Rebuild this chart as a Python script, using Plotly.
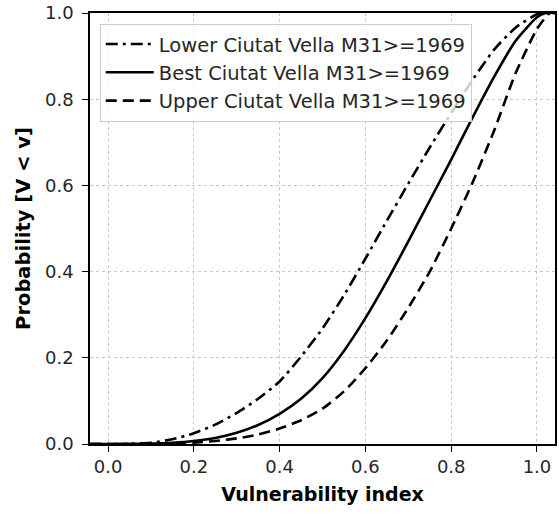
import plotly.graph_objects as go

# ---- data ----
x_lower = [-0.042, 0.0, 0.05, 0.1, 0.15, 0.2, 0.25, 0.3, 0.35, 0.4, 0.45, 0.5, 0.55, 0.6,
           0.65, 0.7, 0.75, 0.8, 0.85, 0.9, 0.95, 1.0, 1.02, 1.042]
y_lower = [0.0, 0.0, 0.0005, 0.003, 0.011, 0.025, 0.045, 0.072, 0.105, 0.145, 0.203, 0.268,
           0.345, 0.43, 0.518, 0.604, 0.688, 0.768, 0.845, 0.915, 0.966, 0.997, 1.0, 1.0]

x_best = [-0.042, 0.0, 0.05, 0.1, 0.15, 0.2, 0.25, 0.3, 0.35, 0.4, 0.45, 0.5, 0.55, 0.6,
          0.65, 0.7, 0.75, 0.8, 0.85, 0.9, 0.95, 1.0, 1.02, 1.042]
y_best = [0.0, 0.0, 0.0, 0.001, 0.003, 0.007, 0.014, 0.026, 0.044, 0.07, 0.105, 0.153,
          0.216, 0.292, 0.378, 0.47, 0.565, 0.66, 0.758, 0.852, 0.935, 0.99, 1.0, 1.0]

x_upper = [-0.042, 0.0, 0.05, 0.1, 0.15, 0.2, 0.25, 0.3, 0.35, 0.4, 0.45, 0.5, 0.55, 0.6,
           0.65, 0.7, 0.75, 0.8, 0.85, 0.9, 0.95, 1.0, 1.02, 1.03, 1.042]
y_upper = [0.0, 0.0, 0.0, 0.0, 0.001, 0.003, 0.007, 0.013, 0.022, 0.036, 0.055, 0.082,
           0.122, 0.176, 0.24, 0.316, 0.4, 0.5, 0.607, 0.727, 0.86, 0.963, 0.99, 1.0, 1.0]

names = ["Lower Ciutat Vella M31>=1969",
         "Best Ciutat Vella M31>=1969",
         "Upper Ciutat Vella M31>=1969"]

x_ticks = [0.0, 0.2, 0.4, 0.6, 0.8, 1.0]
y_ticks = [0.0, 0.2, 0.4, 0.6, 0.8, 1.0]
x_title = "Vulnerability index"
y_title = "Probability [V < v]"

FONT = "DejaVu Sans"
fig = go.Figure()
styles = ["12px,5px,3px,5px", "solid", "11px,6px"]
for xs, ys, nm, dsh in zip([x_lower, x_best, x_upper], [y_lower, y_best, y_upper], names, styles):
    fig.add_trace(go.Scatter(x=xs, y=ys, mode="lines", name=nm,
                             line=dict(color="black", width=2.6, dash=dsh, shape="spline",
                                       smoothing=0.6)))

axis_common = dict(showline=True, linecolor="black", linewidth=1.5, mirror=True,
                   ticks="outside", ticklen=6, tickwidth=1.2, tickcolor="black",
                   showgrid=True, gridcolor="#c8c8c8", gridwidth=1, griddash="dot",
                   zeroline=False, tickfont=dict(family=FONT, size=18, color="#262626"))

fig.update_xaxes(range=[-0.042, 1.042], tickvals=x_ticks,
                 ticktext=[f"{v:.1f}" for v in x_ticks],
                 title=dict(text=f"<b>{x_title}</b>", font=dict(family=FONT, size=19, color="black"),
                            standoff=11),
                 **axis_common)
fig.update_yaxes(range=[0, 1], tickvals=y_ticks,
                 ticktext=[f"{v:.1f}" for v in y_ticks],
                 ticklabelstandoff=5,
                 title=dict(text=f"<b>{y_title}</b>", font=dict(family=FONT, size=19.5, color="black"),
                            standoff=9),
                 **axis_common)

fig.update_layout(
    width=559, height=514,
    margin=dict(l=90, r=2, t=13, b=70),
    plot_bgcolor="white", paper_bgcolor="white",
    showlegend=True,
    legend=dict(x=0.021, y=0.975, xanchor="left", yanchor="top",
                bgcolor="rgba(255,255,255,0.8)", bordercolor="#cccccc", borderwidth=1,
                font=dict(family=FONT, size=19.5, color="#262626"),
                itemwidth=48, tracegroupgap=0),
)

fig.write_html("out.html")
